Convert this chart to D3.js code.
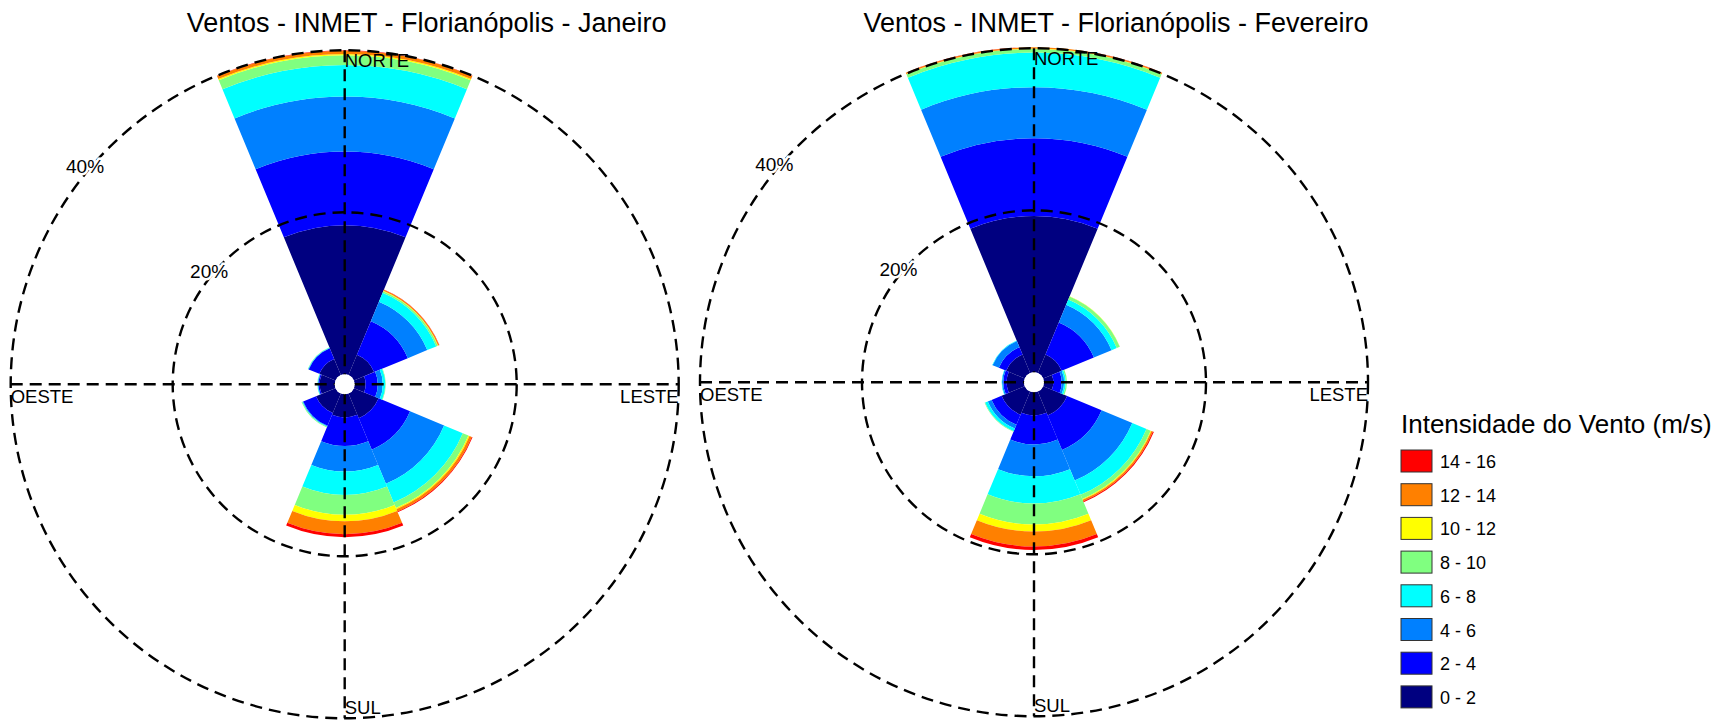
<!DOCTYPE html>
<html>
<head>
<meta charset="utf-8">
<script src="https://cdn.jsdelivr.net/npm/d3@7"></script>
<style>
  html, body { margin: 0; padding: 0; background: #fff; }
  svg { display: block; font-family: "Liberation Sans", Arial, sans-serif; }
</style>
</head>
<body>
<svg id="chart" width="1726" height="720"></svg>
<script>
// ---- data ----
const directions = ["N", "NE", "E", "SE", "S", "SW", "W", "NW"];
const speedClasses = ["0 - 2", "2 - 4", "4 - 6", "6 - 8", "8 - 10", "10 - 12", "12 - 14", "14 - 16"];
const classColors = ["#000080", "#0000ff", "#0080ff", "#00ffff", "#80ff80", "#ffff00", "#ff8000", "#ff0000"];
const directionLabels = ["NORTE", "LESTE", "SUL", "OESTE"];
const ringTicks = [20, 40];
const titles = ["Ventos - INMET - Florianópolis - Janeiro", "Ventos - INMET - Florianópolis - Fevereiro"];
const legendTitle = "Intensidade do Vento (m/s)";

// Janeiro: frequency (%) per speed class, by direction N, NE, E, SE, S, SW, W, NW
const jan_0_2   = [18.4, 2.7, 1.36, 3.3, 2.84, 2.6, 1.85, 2.16];
const jan_2_4   = [9.1, 4.5, 1.48, 4.2, 3.52, 1.72, 0.15, 1.42];
const jan_4_6   = [6.8, 2.6, 0.62, 4.55, 3.18, 0.08, 0.07, 0.05];
const jan_6_8   = [3.9, 1.2, 0.31, 2.5, 2.89, 0.05, 0.05, 0.04];
const jan_8_10  = [1.2, 0.2, 0.06, 0.75, 2.45, 0.08, 0.02, 0.03];
const jan_10_12 = [0.15, 0.05, 0, 0.15, 0.8, 0, 0, 0];
const jan_12_14 = [0.4, 0.15, 0, 0.3, 1.6, 0, 0, 0];
const jan_14_16 = [0.05, 0.02, 0, 0.1, 0.37, 0, 0, 0];

// Fevereiro
const fev_0_2   = [19.3, 2.47, 1.15, 3.2, 2.84, 3.1, 2.14, 2.47];
const fev_2_4   = [9.6, 4.3, 1.03, 4.6, 3.58, 1.34, 0.41, 0.99];
const fev_4_6   = [6.3, 2.36, 0.3, 4.1, 3.95, 0.5, 0.15, 0.84];
const fev_6_8   = [4.27, 0.7, 0.2, 1.9, 3.37, 0.36, 0.05, 0.05];
const fev_8_10  = [0.45, 0.4, 0.15, 0.56, 2.59, 0.07, 0, 0];
const fev_10_12 = [0.05, 0.02, 0, 0.1, 0.87, 0, 0, 0];
const fev_12_14 = [0.15, 0, 0, 0.2, 1.85, 0, 0, 0];
const fev_14_16 = [0.02, 0, 0, 0.12, 0.42, 0, 0, 0];

const months = [
  [jan_0_2, jan_2_4, jan_4_6, jan_6_8, jan_8_10, jan_10_12, jan_12_14, jan_14_16],
  [fev_0_2, fev_2_4, fev_4_6, fev_6_8, fev_8_10, fev_10_12, fev_12_14, fev_14_16]
];

// ---- layout ----
const svg = d3.select("#chart");
const centers = [{x: 344.7, y: 384.3}, {x: 1034, y: 382.3}];
const R = 334, hole = 10;
const rScale = d3.scaleLinear().domain([0, 40]).range([hole, R]);
const angle = d3.scaleBand().domain(directions).range([0, 2 * Math.PI]);
const color = d3.scaleOrdinal().domain(speedClasses).range(classColors);
const arc = d3.arc();
const dash = "12,7";
const lw = 2.4;

months.forEach((series, m) => {
  const c = centers[m];
  const g = svg.append("g").attr("transform", `translate(${c.x},${c.y})`);

  // stacked wedges
  const rows = directions.map((d, i) => {
    const o = {dir: d};
    speedClasses.forEach((s, k) => { o[s] = series[k][i]; });
    return o;
  });
  const stacked = d3.stack().keys(speedClasses)(rows);
  stacked.forEach(layer => {
    g.append("g").selectAll("path").data(layer).join("path")
      .attr("fill", color(layer.key))
      .attr("d", d => {
        const a = angle(d.data.dir);
        const w = angle.bandwidth();
        return arc({
          innerRadius: rScale(d[0]), outerRadius: rScale(d[1]),
          startAngle: a - w / 2, endAngle: a + w / 2
        });
      });
  });

  // grid circles
  g.selectAll("circle.ring").data(ringTicks).join("circle")
    .attr("class", "ring").attr("r", d => rScale(d))
    .attr("fill", "none").attr("stroke", "#000").attr("stroke-width", lw)
    .attr("stroke-dasharray", dash);

  // axis lines
  g.append("line").attr("x1", -R).attr("x2", R).attr("y1", 0).attr("y2", 0)
    .attr("stroke", "#000").attr("stroke-width", lw).attr("stroke-dasharray", dash);
  g.append("line").attr("x1", 0).attr("x2", 0).attr("y1", -R).attr("y2", R)
    .attr("stroke", "#000").attr("stroke-width", lw).attr("stroke-dasharray", dash);

  // center hole
  g.append("circle").attr("r", hole).attr("fill", "#fff");

  // ring labels
  const la = -50 * Math.PI / 180;
  g.selectAll("text.tick").data(ringTicks).join("text")
    .attr("class", "tick")
    .attr("x", d => (rScale(d) + 5) * Math.sin(la))
    .attr("y", d => -(rScale(d) + 5) * Math.cos(la) + 7)
    .attr("text-anchor", "middle")
    .attr("font-size", 19)
    .attr("stroke", "#fff").attr("stroke-width", 5).attr("paint-order", "stroke")
    .text(d => d + "%");

  // direction labels
  const fs = 18.5;
  g.append("text").attr("x", 0).attr("y", -R + 17).attr("font-size", fs).text(directionLabels[0]);
  g.append("text").attr("x", R).attr("y", 19).attr("font-size", fs).attr("text-anchor", "end").text(directionLabels[1]);
  g.append("text").attr("x", 0).attr("y", R - 4).attr("font-size", fs).text(directionLabels[2]);
  g.append("text").attr("x", -R).attr("y", 19).attr("font-size", fs).text(directionLabels[3]);

  // title
  svg.append("text").attr("x", c.x + 82).attr("y", 32)
    .attr("text-anchor", "middle").attr("font-size", 27).text(titles[m]);
});

// ---- legend ----
const lg = svg.append("g");
lg.append("text").attr("x", 1401).attr("y", 433).attr("font-size", 26).text(legendTitle);
const legendOrder = speedClasses.slice().reverse();
const ly = d3.scaleBand().domain(legendOrder).range([450, 450 + 33.7 * legendOrder.length]);
lg.selectAll("rect").data(legendOrder).join("rect")
  .attr("x", 1401).attr("y", d => ly(d)).attr("width", 31).attr("height", 22)
  .attr("fill", d => color(d)).attr("stroke", "#333").attr("stroke-width", 1);
lg.selectAll("text.lab").data(legendOrder).join("text")
  .attr("class", "lab")
  .attr("x", 1440).attr("y", d => ly(d) + 18)
  .attr("font-size", 18).text(d => d);
</script>
</body>
</html>
